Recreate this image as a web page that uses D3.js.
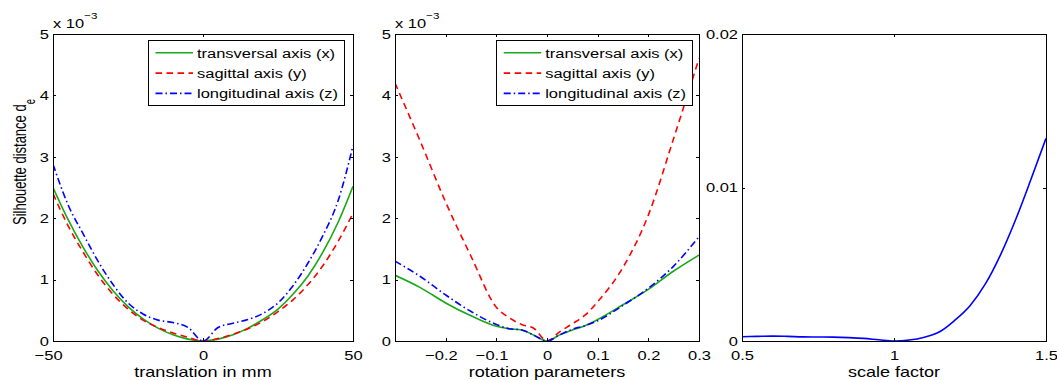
<!DOCTYPE html>
<html><head><meta charset="utf-8">
<script src="https://cdn.jsdelivr.net/npm/d3@7"></script>
<style>
body{margin:0;background:#fff}
svg{display:block}
text{font-family:"Liberation Sans",Arial,Helvetica,sans-serif;fill:#000}
</style>
</head><body>
<svg id="c" width="1057" height="380"></svg>
<script>
// ---------- data ----------
const seriesNames = ["transversal axis (x)", "sagittal axis (y)", "longitudinal axis (z)"];

// Panel 1: translation in mm (values x 10^-3)
const transX     = [-50,-45,-40,-35,-30,-25,-20,-15,-10,-5,0,5,10,15,20,25,30,35,40,45,50];
const transGreen = [2.50,1.98,1.53,1.14,0.82,0.56,0.36,0.21,0.10,0.03,0,0.03,0.10,0.21,0.35,0.52,0.76,1.06,1.45,1.93,2.52];
const transRed   = [2.40,1.88,1.45,1.07,0.76,0.52,0.34,0.22,0.13,0.06,0,0.04,0.11,0.20,0.32,0.48,0.67,0.92,1.23,1.62,2.08];
const transBlue  = [2.88,2.22,1.75,1.30,0.92,0.62,0.44,0.34,0.30,0.22,0,0.22,0.29,0.35,0.45,0.62,0.90,1.27,1.72,2.28,3.18];

// Panel 2: rotation parameters (values x 10^-3)
const rotX     = [-0.3,-0.25,-0.2,-0.15,-0.1,-0.075,-0.05,-0.025,0,0.025,0.05,0.075,0.1,0.15,0.2,0.25,0.3];
const rotGreen = [1.07,0.87,0.62,0.41,0.24,0.20,0.18,0.09,0,0.10,0.18,0.25,0.35,0.59,0.84,1.14,1.40];
const rotRed   = [4.20,3.25,2.26,1.38,0.55,0.38,0.27,0.20,0,0.15,0.28,0.42,0.64,1.20,2.05,3.30,4.60];
const rotBlue  = [1.30,1.05,0.75,0.48,0.27,0.20,0.18,0.09,0,0.10,0.19,0.25,0.33,0.58,0.86,1.22,1.70];

// Panel 3: scale factor
const scaleX    = [0.5,0.55,0.6,0.65,0.7,0.75,0.8,0.85,0.9,0.95,1.0,1.05,1.1,1.15,1.2,1.25,1.3,1.35,1.4,1.45,1.5];
const scaleBlue = [0.00028,0.0003,0.00032,0.0003,0.00027,0.00026,0.00025,0.00022,0.00017,0.00008,0,0.00006,0.00025,0.0006,0.00135,0.0023,0.0037,0.0056,0.0079,0.0105,0.0132];

// ticks
const p1XTicks = [-50,0,50];            const p1XLabels = ["\u221250","0","50"];
const p12YTicks = [0,1,2,3,4,5];        const p12YLabels = ["0","1","2","3","4","5"];
const p2XTicks = [-0.2,-0.1,0,0.1,0.2,0.3]; const p2XLabels = ["\u22120.2","\u22120.1","0","0.1","0.2","0.3"];
const p3XTicks = [0.5,1,1.5];           const p3XLabels = ["0.5","1","1.5"];
const p3YTicks = [0,0.01,0.02];         const p3YLabels = ["0","0.01","0.02"];

const xLabels = ["translation in mm","rotation parameters","scale factor"];
const yLabelMain = "Silhouette distance d", yLabelSub = "e";
const expBase = "x 10", expPow = "\u22123";

// ---------- drawing ----------
const svg = d3.select("#c");
const FS_T = 13.5, SX_T = 1.22, FS_L = 14, SX_L = 1.29;
const COLORS = ["#18a818","#ff0000","#0000ff"];
const DASH = [null,"6.5,4.5","7,3,1.5,3"];

const panels = [
  {l:53, r:353, t:34, b:341, xd:[-50,50], yd:[0,5], xt:p1XTicks, xl:p1XLabels, yt:p12YTicks, yl:p12YLabels,
   xs:transX, ys:[transGreen,transRed,transBlue], cols:[0,1,2], dash:[0,1,2], legend:344.5, exp:true, xlab:xLabels[0], ylab:true},
  {l:395, r:699, t:34, b:341, xd:[-0.3,0.3], yd:[0,5], xt:p2XTicks, xl:p2XLabels, yt:p12YTicks, yl:p12YLabels,
   xs:rotX, ys:[rotGreen,rotRed,rotBlue], cols:[0,1,2], dash:[0,1,2], legend:692.7, exp:true, xlab:xLabels[1]},
  {l:742, r:1046, t:34, b:341, xd:[0.5,1.5], yd:[0,0.02], xt:p3XTicks, xl:p3XLabels, yt:p3YTicks, yl:p3YLabels,
   xs:scaleX, ys:[scaleBlue], cols:[2], dash:[0], xlab:xLabels[2]}
];

panels.forEach((p, pi) => {
  const x = d3.scaleLinear().domain(p.xd).range([p.l, p.r]);
  const y = d3.scaleLinear().domain(p.yd).range([p.b, p.t]);
  const g = svg.append("g");

  const cid = "clip" + pi;
  svg.append("clipPath").attr("id", cid).append("rect")
    .attr("x", p.l).attr("y", p.t).attr("width", p.r - p.l).attr("height", p.b - p.t);

  // curves
  const line = d3.line().x(d => x(d[0])).y(d => y(d[1])).curve(d3.curveMonotoneX);
  p.ys.forEach((vals, k) => {
    g.append("path").attr("clip-path", `url(#${cid})`)
      .datum(p.xs.map((xv, i) => [xv, vals[i]]))
      .attr("d", line).attr("fill", "none")
      .attr("stroke", COLORS[p.cols[k]]).attr("stroke-width", 1.6)
      .attr("stroke-dasharray", DASH[p.dash[k]]);
  });

  // axes (ticks inward on all four sides)
  const fmtX = (d, i) => p.xl[i], fmtY = (d, i) => p.yl[i];
  const bottom = g.append("g").attr("transform", `translate(0,${p.b})`)
    .call(d3.axisBottom(x).tickValues(p.xt).tickFormat(fmtX).tickSizeInner(-3).tickSizeOuter(0).tickPadding(9));
  const left = g.append("g").attr("transform", `translate(${p.l},0)`)
    .call(d3.axisLeft(y).tickValues(p.yt).tickFormat(fmtY).tickSizeInner(-3).tickSizeOuter(0).tickPadding(4));
  const top = g.append("g").attr("transform", `translate(0,${p.t})`)
    .call(d3.axisTop(x).tickValues(p.xt).tickFormat("").tickSizeInner(-3).tickSizeOuter(0));
  const right = g.append("g").attr("transform", `translate(${p.r},0)`)
    .call(d3.axisRight(y).tickValues(p.yt).tickFormat("").tickSizeInner(-3).tickSizeOuter(0));
  [bottom, left, top, right].forEach(a => {
    a.select(".domain").remove();
    a.selectAll("line").attr("stroke", "#000").attr("shape-rendering", "crispEdges");
    a.attr("font-family", null).attr("font-size", null);
  });
  bottom.selectAll("text").attr("font-size", FS_T)
    .attr("x", (d) => d < 0 ? -4.8 / SX_T : 0)
    .attr("transform", `scale(${SX_T},1)`);
  left.selectAll("text").attr("font-size", FS_T)
    .attr("x", -4 / SX_T)
    .attr("transform", `scale(${SX_T},1)`);

  // box
  g.append("rect").attr("x", p.l).attr("y", p.t)
    .attr("width", p.r - p.l).attr("height", p.b - p.t)
    .attr("fill", "none").attr("stroke", "#000").attr("stroke-width", 1)
    .attr("shape-rendering", "crispEdges");

  // exponent
  if (p.exp) {
    const t = g.append("text").attr("transform", `translate(${p.l},27.5) scale(${SX_T},1)`).attr("font-size", FS_T);
    t.append("tspan").text(expBase);
    t.append("tspan").attr("font-size", 9.5).attr("dy", -8.5).text(expPow);
  }

  // x label
  g.append("text").attr("transform", `translate(${(p.l + p.r) / 2},377) scale(${SX_L},1)`)
    .attr("font-size", FS_L).attr("text-anchor", "middle").text(p.xlab);

  // y label
  if (p.ylab) {
    const t = g.append("text").attr("transform", `translate(25.5,225) scale(1.45,1) rotate(-90)`)
      .attr("font-size", 13).attr("text-anchor", "start");
    t.append("tspan").text(yLabelMain);
    t.append("tspan").attr("font-size", 9.5).attr("dy", 6.5).text(yLabelSub);
  }

  // legend
  if (p.legend) {
    const w = 196.5, lx = p.legend - w, ly = 40;
    const lg = g.append("g");
    lg.append("rect").attr("x", lx).attr("y", ly).attr("width", w).attr("height", 65)
      .attr("fill", "#fff").attr("stroke", "#000").attr("stroke-width", 1).attr("shape-rendering", "crispEdges");
    seriesNames.forEach((name, k) => {
      const yy = ly + 12.8 + k * 20.3;
      lg.append("line").attr("x1", lx + 7.5).attr("x2", lx + 45).attr("y1", yy).attr("y2", yy)
        .attr("stroke", COLORS[k]).attr("stroke-width", 1.6).attr("stroke-dasharray", DASH[k]);
      lg.append("text").attr("transform", `translate(${lx + 49},${yy + 4.8}) scale(${SX_T},1)`)
        .attr("font-size", FS_T).text(name);
    });
  }
});
</script>
</body></html>
